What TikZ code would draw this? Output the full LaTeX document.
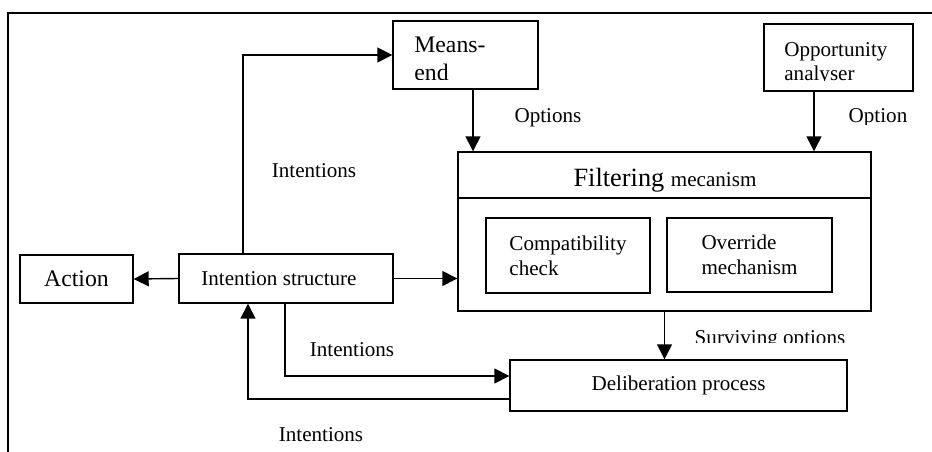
\documentclass[tikz,border=0pt]{standalone}
\usepackage{fontspec}
\setmainfont{Liberation Serif}
\usepackage{tikz}
\usetikzlibrary{positioning, arrows.meta}
\newcommand{\pxu}{0.02cm}
\tikzset{
    block/.style={
        draw, line width=0.8pt,
        inner sep=0pt,
        align = center,
        font = \fontsize{12}{14}\selectfont
    },
    lbl/.style = {font=\fontsize{12}{14}\selectfont, inner sep=0pt},
    line/.style = {line width=0.8pt, -{Triangle[length=0.3cm, width=0.3cm]}}
}
\begin{document}
\begin{tikzpicture}[x=\pxu, y=-\pxu]

    % Size of the page
    \useasboundingbox (0,0) rectangle (932,452);

    % Frame
    \draw[line width=0.9pt] (8,452) -- (8,13) -- (932,13);

    % Boxes
    \node[block, minimum width=113*\pxu, minimum height=48*\pxu,
        font=\fontsize{13.5}{15}\selectfont] (act) at (76.5,279) {Action};
    \node[block, minimum width=214*\pxu, minimum height=49*\pxu] (ist) at (286,278.5) {Intention structure\hspace{8pt}};
    \node[block, minimum width=145*\pxu, minimum height=68*\pxu] (me) at (465.5,55) {};
    \node[block, minimum width=149*\pxu, minimum height=67*\pxu] (opp) at (838.5,57.5) {};
    \node[block, minimum width=413*\pxu, minimum height=159*\pxu] (filt) at (664.5,231.5) {};
    \node[block, minimum width=164*\pxu, minimum height=75*\pxu, align=left] (comp) at (568,255.5) {Compatibility\\check};
    \node[block, minimum width=165*\pxu, minimum height=74*\pxu, align=left] (ovr) at (749.5,255) {Override\hspace{25pt}\\mechanism};
    \node[block, minimum width=337*\pxu, minimum height=51*\pxu] (delib) at (678.5,385.5) {Deliberation process};

    % Header of the filter
    \coordinate (hdr) at (0,198);
    \draw[line width=0.8pt] (filt.west |- hdr) -- (filt.east |- hdr);
    \node[lbl] (ftitle) at (665,180) {\fontsize{15}{17}\selectfont Filtering \fontsize{12}{14}\selectfont mecanism};

    % Box texts, cut at the bottom
    \begin{scope}
        \clip (me.north west) rectangle (538,80);
        \node[lbl, anchor=north west, align=left, font=\fontsize{13.5}{15.5}\selectfont] (metext) at (414,37) {Means-\\end};
    \end{scope}
    \begin{scope}
        \clip (opp.north west) rectangle (913,81);
        \node[lbl, anchor=north west, align=left] (opptext) at (784,42) {Opportunity\\analyser};
    \end{scope}

    % Connectors
    \coordinate (up) at (243,55);
    \coordinate (mo) at (473,0);
    \coordinate (oo) at (814,0);
    \coordinate (dn) at (285,376);
    \coordinate (bk) at (248,399);
    \draw[line] (ist.west) -- (act.east);
    \draw[line] (ist.east) -- (filt.west |- ist.east);
    \draw[line] (ist.north -| up) |- (me.west);
    \draw[line] (me.south -| mo) -- (filt.north -| mo);
    \draw[line] (opp.south -| oo) -- (filt.north -| oo);
    \draw[line] (filt.south) -- (delib.north -| filt.south);
    \draw[line] (ist.south -| dn) |- (delib.west |- dn);
    \draw[line] (delib.west |- bk) -| (ist.south -| bk);

    % Labels
    \node[lbl] (l1) at (314,171) {Intentions};
    \node[lbl] (l2) at (548,118) {Options};
    \node[lbl] (l3) at (352,350) {Intentions};
    \node[lbl] (l4) at (321,435) {Intentions};
    \begin{scope}
        \clip (840,100) rectangle (920,125);
        \node[lbl] (l5) at (878,118) {Option};
    \end{scope}
    \begin{scope}
        \clip (680,320) rectangle (860,342);
        \node[lbl] (l6) at (770,340) {Surviving options};
    \end{scope}

\end{tikzpicture}
\end{document}
